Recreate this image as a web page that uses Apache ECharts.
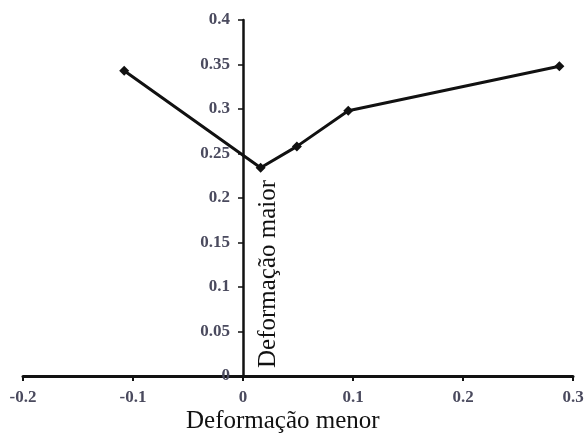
<!DOCTYPE html>
<html>
<head>
<meta charset="utf-8">
<script src="https://cdn.jsdelivr.net/npm/echarts@6/dist/echarts.min.js"></script>
<style>html,body{margin:0;padding:0;background:#fff}#c{width:585px;height:439px}</style>
</head>
<body>
<div id="c"></div>
<script>
var xValues = [-0.108, 0.016, 0.049, 0.0957, 0.2876];
var yValues = [0.343, 0.234, 0.258, 0.298, 0.348];
var xAxisTitle = 'Deformação menor';
var yAxisTitle = 'Deformação maior';
var xMin = -0.2, xMax = 0.3, yMin = 0, yMax = 0.4;

var gridLeft = 23, gridRight = 12, W = 585;
var plotW = W - gridLeft - gridRight;
// y axis sits where x = 0
var yAxisOffset = -((0 - xMin) / (xMax - xMin)) * plotW;

var chart = echarts.init(document.getElementById('c'));
var serif = '"Liberation Serif", "Times New Roman", serif';
var labelStyle = { fontFamily: serif, fontSize: 17, color: '#4a4a5e', fontWeight: 'bold' };
chart.setOption({
  animation: false,
  grid: { left: gridLeft, right: gridRight, top: 20, bottom: 63, containLabel: false, outerBoundsMode: 'none' },
  xAxis: {
    type: 'value', min: xMin, max: xMax, interval: 0.1,
    axisLine: { onZero: true, lineStyle: { color: '#111', width: 3 } },
    axisTick: { show: true, inside: false, length: 5, lineStyle: { color: '#111', width: 2 } },
    axisLabel: Object.assign({ margin: 13 }, labelStyle),
    splitLine: { show: false }
  },
  yAxis: {
    type: 'value', min: yMin, max: yMax, interval: 0.05,
    offset: yAxisOffset,
    axisLine: { onZero: false, lineStyle: { color: '#111', width: 2.5 } },
    axisTick: { show: true, inside: false, length: 5, lineStyle: { color: '#111', width: 1.5 } },
    axisLabel: Object.assign({ margin: 13 }, labelStyle),
    splitLine: { show: false }
  },
  graphic: [
    { type: 'text', left: 186, top: 409, style: { text: xAxisTitle, font: '25px ' + serif, fill: '#111' } },
    { type: 'text', x: 256, y: 368, rotation: Math.PI / 2,
      style: { text: yAxisTitle, font: '25px ' + serif, fill: '#111', textVerticalAlign: 'top' } }
  ],
  series: [{
    type: 'line',
    data: xValues.map(function (x, i) { return [x, yValues[i]]; }),
    symbol: 'diamond', symbolSize: 10,
    itemStyle: { color: '#111' },
    lineStyle: { color: '#111', width: 3 }
  }]
});
</script>
</body>
</html>
